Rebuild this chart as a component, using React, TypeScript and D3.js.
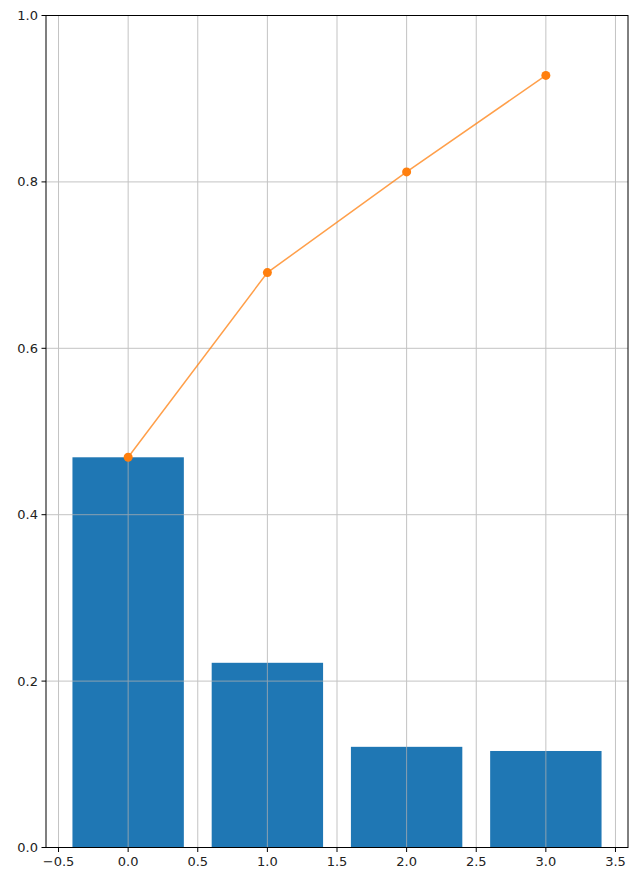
import React from "react";
import * as d3 from "d3";

// Explained variance ratio per principal component
const components = [0, 1, 2, 3];
const varianceRatio = [0.469, 0.222, 0.121, 0.116];
const cumulative = [0.469, 0.691, 0.812, 0.928];
const xTicks = [-0.5, 0, 0.5, 1, 1.5, 2, 2.5, 3, 3.5];
const yTicks = [0, 0.2, 0.4, 0.6, 0.8, 1.0];

const W = 630;
const H = 874;
const M = { left: 46, right: 2, top: 15.5, bottom: 26.5 };
const BAR_W = 0.8;

export default function App() {
  const x = d3.scaleLinear().domain([-0.59, 3.59]).range([M.left, W - M.right]);
  const y = d3.scaleLinear().domain([0, 1]).range([H - M.bottom, M.top]);
  const line = d3
    .line<number>()
    .x((_, i) => x(components[i]))
    .y((d) => y(d));
  const font = "'DejaVu Sans', sans-serif";
  const x0 = M.left;
  const x1 = W - M.right;
  const y0 = H - M.bottom;
  const y1 = M.top;

  return (
    <svg
      width={W}
      height={H}
      style={{ position: "absolute", left: 0, top: 0, background: "#fff" }}
    >
      {/* bars */}
      {components.map((c, i) => (
        <rect
          key={c}
          x={x(c - BAR_W / 2)}
          y={y(varianceRatio[i])}
          width={x(c + BAR_W / 2) - x(c - BAR_W / 2)}
          height={y(0) - y(varianceRatio[i])}
          fill="#1f77b4"
        />
      ))}
      {/* grid */}
      <g stroke="#b0b0b0" strokeWidth={1} opacity={0.75}>
        {xTicks.map((t) => (
          <line key={"gx" + t} x1={x(t)} x2={x(t)} y1={y1} y2={y0} />
        ))}
        {yTicks.map((t) => (
          <line key={"gy" + t} x1={x0} x2={x1} y1={y(t)} y2={y(t)} />
        ))}
      </g>
      {/* cumulative line */}
      <path
        d={line(cumulative) || ""}
        fill="none"
        stroke="#ff7f0e"
        strokeWidth={1.5}
        opacity={0.75}
      />
      {cumulative.map((v, i) => (
        <circle key={i} cx={x(components[i])} cy={y(v)} r={4.5} fill="#ff7f0e" />
      ))}
      {/* spines */}
      <rect x={x0} y={y1} width={x1 - x0} height={y0 - y1} fill="none" stroke="#000" strokeWidth={1} />
      {/* x ticks */}
      {xTicks.map((t) => (
        <g key={"xt" + t}>
          <line x1={x(t)} x2={x(t)} y1={y0} y2={y0 + 4.5} stroke="#000" />
          <text x={x(t)} y={y0 + 18} textAnchor="middle" fontFamily={font} fontSize={13} fill="#222">
            {d3.format(".1f")(t).replace("-", "\u2212")}
          </text>
        </g>
      ))}
      {/* y ticks */}
      {yTicks.map((t) => (
        <g key={"yt" + t}>
          <line x1={x0 - 4.5} x2={x0} y1={y(t)} y2={y(t)} stroke="#000" />
          <text x={x0 - 8} y={y(t) + 4.5} textAnchor="end" fontFamily={font} fontSize={13} fill="#222">
            {d3.format(".1f")(t)}
          </text>
        </g>
      ))}
    </svg>
  );
}
